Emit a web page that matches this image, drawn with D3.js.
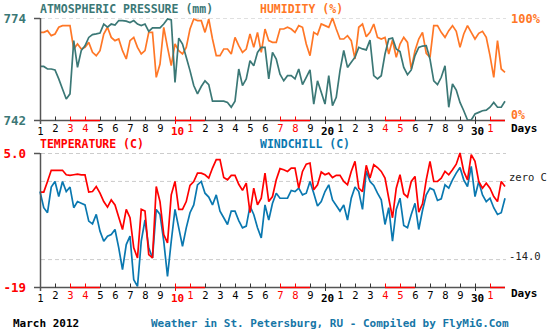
<!DOCTYPE html>
<html><head><meta charset="utf-8">
<script src="https://cdn.jsdelivr.net/npm/d3@7"></script>
<style>body{margin:0;background:#fff}svg{display:block}</style>
</head><body>
<script>
// ---- data ----
const dayLabels = ["1","2","3","4","5","6","7","8","9","10","1","2","3","4","5","6","7","8","9","20","1","2","3","4","5","6","7","8","9","30","1"];
const weekendDays = [3,4,10,11,17,18,24,25,31];
const boldDays = [10,20,30];
const lowDays = [1,10,20,30];
const samplesPerDay = 4;
const pressureTicks = [742, 774];
const humidityLabels = ["100%", "0%"];
const tempTicks = [-19, 5];
const tempGrid = [5, 0, -14];
const tempTickLabels = ["-19", "5.0"];

const pressure = [
758.8,758.8,758.0,758.0,757.7,754.9,751.7,748.6,750.2,766.9,
758.5,763.8,765.3,767.9,768.8,769.0,769.3,772.1,771.1,772.1,
771.8,773.2,773.2,773.0,772.6,773.2,772.1,771.6,772.1,769.8,
770.9,770.9,770.9,772.1,773.7,773.4,753.8,767.7,765.8,761.7,
757.5,752.8,750.2,752.5,754.3,753.1,747.9,747.9,747.9,747.9,
747.5,746.0,747.9,758.0,752.8,754.9,760.6,759.0,763.2,764.8,
764.8,754.9,763.2,761.1,756.4,754.3,755.9,755.9,754.9,758.0,
753.1,755.4,757.7,747.0,754.3,750.7,747.0,755.9,746.5,749.1,
757.5,763.8,758.5,760.1,761.7,764.8,764.3,764.0,767.1,755.9,
754.9,755.9,762.7,767.4,767.7,764.3,763.5,758.5,756.2,757.7,
762.2,764.8,765.2,765.3,761.1,754.3,753.1,755.4,759.0,746.0,
753.3,751.4,747.5,744.9,742.0,742.0,743.9,744.4,744.9,745.1,
746.0,747.5,746.0,746.0,747.9];

const humidity = [
85.9,85.9,87.6,82.7,84.3,90.9,92.5,92.5,92.5,69.6,
74.5,69.6,71.2,76.1,66.3,63.1,68.0,84.3,90.9,81.0,
77.8,79.4,68.0,59.8,77.8,81.0,71.2,64.7,68.0,85.9,
85.9,41.8,54.9,90.9,71.2,53.3,74.5,68.0,64.7,71.2,
89.2,99.0,97.4,97.4,85.9,99.0,79.4,63.1,63.1,69.6,
69.6,64.7,81.0,72.9,66.3,69.6,84.3,71.2,85.9,66.3,
89.2,77.8,76.1,76.1,89.2,89.2,90.9,89.2,85.9,92.5,
90.9,74.5,63.1,85.9,83.7,94.1,92.5,90.9,100,89.2,
79.4,79.4,82.7,77.8,59.8,90.9,94.1,81.7,85.9,94.1,
81.0,79.4,81.0,64.7,78.4,61.4,74.5,81.0,76.1,50.0,
68.0,79.4,85.9,65.4,61.4,92.5,92.5,85.9,81.0,87.6,
92.5,86.9,71.2,84.3,92.5,85.9,79.4,85.0,86.9,81.0,
63.1,41.8,77.8,50.0,46.7];

const temperature = [
-2.0,-2.0,-0.1,1.9,1.9,1.9,1.9,1.1,1.0,1.1,
1.2,1.1,1.1,-2.0,-1.9,-1.0,-2.2,-3.7,-4.7,-3.4,
-4.3,-6.5,-8.7,-5.1,-6.6,-12.0,-13.8,-5.1,-5.4,-13.2,
-13.8,-1.0,-3.7,-9.6,-11.1,-2.5,-0.1,-5.1,-5.1,-3.7,
-0.8,-0.1,1.4,1.4,1.1,0.5,2.3,3.8,3.8,0.6,
0.2,1.0,1.0,-0.6,-1.7,-0.4,-5.7,-1.3,-4.3,-3.1,
1.4,-3.7,-2.8,0.2,2.2,2.0,1.7,2.3,2.3,-1.3,
1.7,3.0,3.2,-1.6,-0.7,1.6,1.1,1.4,0.6,1.0,
1.0,-0.1,-0.7,1.7,3.5,-1.3,-1.9,2.8,0.5,2.9,
2.4,1.7,0.5,-3.1,-6.6,-1.3,1.1,-2.3,-2.9,-0.1,
0.8,-5.6,-4.1,0.2,3.5,-0.1,-0.1,0.5,1.7,1.1,
2.0,3.0,5.0,1.7,0.2,4.7,3.5,-0.1,-1.3,-0.4,
-1.3,-2.8,-3.7,-0.1,-1.0];

const windchill = [
-1.9,-4.8,-5.7,-1.1,-0.1,-2.8,-0.1,-1.9,-1.1,-4.8,
-3.7,-4.0,-4.3,-7.2,-7.7,-6.0,-9.0,-10.8,-9.9,-9.6,
-8.7,-12.0,-15.9,-11.4,-9.9,-17.7,-18.9,-10.8,-7.0,-12.0,
-13.8,-5.1,-6.0,-10.8,-17.1,-10.8,-5.1,-8.4,-11.7,-8.4,
-5.7,-4.3,-0.7,-0.1,-2.2,-2.9,-4.3,-2.5,-5.4,-6.6,
-7.8,-5.4,-5.4,-7.1,-8.4,-8.1,-4.5,-6.0,-8.4,-10.2,
-4.3,-7.0,-4.0,-2.2,-3.1,-3.1,-3.1,-1.7,-1.9,-1.3,
-2.5,-2.2,-0.1,-2.2,-4.5,-3.7,-1.9,-0.7,-3.4,-4.4,
-5.4,-4.3,-7.0,-3.1,-1.1,-1.9,-5.1,1.8,-0.1,-0.8,
-2.2,-3.4,-7.8,-4.8,-10.8,-5.1,-3.1,-8.0,-8.4,-6.0,
-4.0,-8.7,-5.3,-2.5,-1.3,-1.6,-3.5,-3.2,-0.7,-1.3,
0.2,1.4,2.4,0.2,-1.0,2.6,-2.8,-0.1,-2.5,-3.7,
-3.1,-4.8,-6.0,-5.7,-3.1];

// ---- styles ----
const C = {
  pressure: "#3b7876", humidity: "#ff7726", temp: "#ff0000", wind: "#0a78b0",
  axis: "#555555", footer: "#1676a6"
};
const MONO = "'DejaVu Sans Mono', 'Liberation Mono', monospace";

const W = 556, H = 336;
const svg = d3.select("body").append("svg").attr("width", W).attr("height", H)
  .style("font-family", MONO);

const x = d3.scaleLinear().domain([0, 31]).range([40, 505]);
const yP = d3.scaleLinear().domain([742, 774]).range([120, 18]);
const yH = d3.scaleLinear().domain([0, 100]).range([120, 18]);
const yT = d3.scaleLinear().domain([-19, 5]).range([287, 153]);

const t = i => i / samplesPerDay;

function title(txt, xx, yy, color) {
  svg.append("text").attr("x", xx).attr("y", yy).text(txt)
    .attr("fill", color).attr("font-weight", "bold").attr("font-size", 11.5);
}

function xAxis(y0) {
  const g = svg.append("g").attr("transform", `translate(0,${y0})`);
  g.append("line").attr("x1", x(0)).attr("x2", x(31)).attr("y1", 0.5).attr("y2", 0.5)
    .attr("stroke", C.axis).attr("stroke-width", 1.5);
  weekendDays.forEach(d => {
    g.append("line").attr("x1", x(d - 1)).attr("x2", Math.min(x(d), x(31)))
      .attr("y1", 0.5).attr("y2", 0.5).attr("stroke", C.temp).attr("stroke-width", 1.5);
  });
  const ax = d3.axisBottom(x).tickValues(d3.range(31))
    .tickFormat(i => dayLabels[i]).tickSize(0).tickSizeOuter(0);
  const a = svg.append("g").attr("transform", `translate(0,${y0})`).call(ax);
  a.select(".domain").remove();
  a.selectAll(".tick line")
    .attr("y1", -3.5).attr("y2", i => boldDays.includes(i + 1) ? 4 : 0.5)
    .attr("stroke", i => weekendDays.includes(i + 1) ? C.temp : "#333")
    .attr("stroke-width", 1);
  a.selectAll(".tick text")
    .attr("y", i => lowDays.includes(i + 1) ? 14.8 : 12).attr("dy", 0)
    .attr("font-family", MONO)
    .attr("font-size", i => boldDays.includes(i + 1) ? 11 : 10.5)
    .attr("font-weight", i => boldDays.includes(i + 1) ? "bold" : "normal")
    .attr("text-anchor", i => boldDays.includes(i + 1) ? "start" : "middle")
    .attr("x", i => boldDays.includes(i + 1) ? -4.5 : 0)
    .attr("fill", i => weekendDays.includes(i + 1) ? C.temp : "#000");
}

function yAxisLeft(scale, ticks, labels, color, top, bottom) {
  const ax = d3.axisLeft(scale).tickValues(ticks).tickSize(6).tickSizeOuter(0).tickPadding(8)
    .tickFormat((d, i) => labels[i]);
  const a = svg.append("g").attr("transform", "translate(40,0)").call(ax);
  a.select(".domain").remove();
  a.selectAll(".tick line").attr("stroke", C.axis).attr("stroke-width", 1.5);
  a.selectAll(".tick text").attr("fill", color).attr("font-weight", "bold")
    .attr("font-size", 12.5).attr("font-family", MONO);
  svg.append("line").attr("x1", 40.5).attr("x2", 40.5).attr("y1", top).attr("y2", bottom)
    .attr("stroke", C.axis).attr("stroke-width", 1.5);
}

function grid(yy, color) {
  svg.append("line").attr("x1", 41).attr("x2", 506).attr("y1", yy).attr("y2", yy)
    .attr("stroke", color).attr("stroke-width", 1).attr("stroke-dasharray", "4,3");
}

function series(values, scale, color) {
  const line = d3.line().x((d, i) => x(t(i))).y(d => scale(d)).curve(d3.curveLinear);
  svg.append("path").datum(values).attr("d", line).attr("fill", "none")
    .attr("stroke", color).attr("stroke-width", 1.7)
    .attr("stroke-linejoin", "miter").attr("stroke-miterlimit", 2);
}

// ---- top chart ----
title("ATMOSPHERIC PRESSURE (mm)", 40, 12.5, C.pressure);
title("HUMIDITY (%)", 260, 12.5, C.humidity);
grid(yP(774) + 0.5, "#e0e0e0");
series(humidity, yH, C.humidity);
series(pressure, yP, C.pressure);
xAxis(yP(742));
yAxisLeft(yP, pressureTicks, pressureTicks.map(String), C.pressure, yP(774), yP(742) + 4);
svg.append("text").attr("x", 511).attr("y", yH(100) + 4.7).text(humidityLabels[0])
  .attr("fill", C.humidity).attr("font-weight", "bold").attr("font-size", 12);
svg.append("text").attr("x", 511).attr("y", yH(0) - 1.5).text(humidityLabels[1])
  .attr("fill", C.humidity).attr("font-weight", "bold").attr("font-size", 11.5);
svg.append("text").attr("x", 511).attr("y", yP(742) + 12).text("Days")
  .attr("fill", "#000").attr("font-weight", "bold").attr("font-size", 11);

// ---- bottom chart ----
title("TEMPERATURE (C)", 40, 148.3, C.temp);
title("WINDCHILL (C)", 260, 148.3, C.wind);
tempGrid.forEach(v => grid(yT(v) + 0.5, "#cccccc"));
series(windchill, yT, C.wind);
series(temperature, yT, C.temp);
xAxis(yT(-19));
yAxisLeft(yT, tempTicks, tempTickLabels, C.temp, yT(5), yT(-19) + 4);
svg.append("text").attr("x", 509).attr("y", yT(0) + 0.5).text("zero C")
  .attr("fill", "#222").attr("font-size", 10.5);
svg.append("text").attr("x", 509).attr("y", yT(-14) + 0.5).text("-14.0")
  .attr("fill", "#222").attr("font-size", 10.5);
svg.append("text").attr("x", 511).attr("y", yT(-19) + 10).text("Days")
  .attr("fill", "#000").attr("font-weight", "bold").attr("font-size", 11);

// ---- footer ----
svg.append("text").attr("x", 13).attr("y", 327).text("March 2012")
  .attr("fill", "#000").attr("font-weight", "bold").attr("font-size", 11);
svg.append("text").attr("x", 151).attr("y", 327)
  .text("Weather in St. Petersburg, RU - Compiled by FlyMiG.Com")
  .attr("fill", C.footer).attr("font-weight", "bold").attr("font-size", 11);
</script>
</body></html>
